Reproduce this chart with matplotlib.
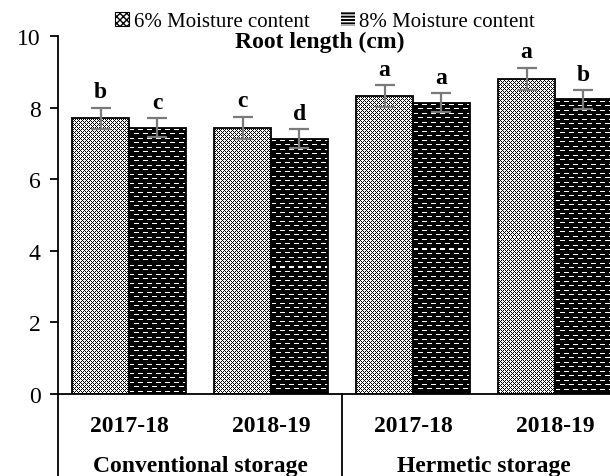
import numpy as np
import matplotlib
matplotlib.use("Agg")
import matplotlib.pyplot as plt
from matplotlib.patches import Patch

plt.rcParams['font.family'] = ['Liberation Serif', 'DejaVu Serif']

# Root length (cm) by storage type, season and seed moisture content
seasons = ["2017-18", "2018-19", "2017-18", "2018-19"]
storage_groups = ["Conventional storage", "Hermetic storage"]
series_names = ["6% Moisture content", "8% Moisture content"]
moist6 = [7.70, 7.43, 8.32, 8.80]
moist6_err = [0.30, 0.32, 0.31, 0.31]
moist6_letters = ["b", "c", "a", "a"]
moist8 = [7.44, 7.13, 8.14, 8.23]
moist8_err = [0.26, 0.27, 0.26, 0.26]
moist8_letters = ["c", "d", "a", "b"]

W, H = 610, 477
fig = plt.figure(figsize=(W / 100, H / 100), dpi=100)
ax = fig.add_axes([58 / W, 82 / H, 568 / W, 358 / H])

x = np.arange(len(seasons))
bw = 0.40
ax.set_xlim(-0.5, len(seasons) - 0.5)
ax.set_ylim(0, 10)

bars6 = ax.bar(x - bw / 2, moist6, bw, facecolor="white", edgecolor="none", zorder=2)
bars8 = ax.bar(x + bw / 2, moist8, bw, facecolor="black", edgecolor="none", zorder=2)


def tile_checker(h, w):
    i, j = np.mgrid[0:h, 0:w]
    black = ((i + j) % 4 == 0) | ((i - j) % 4 == 0)
    img = np.ones((h, w, 3))
    img[black] = 0.0
    return img


def tile_dashes(h, w):
    i, j = np.mgrid[0:h, 0:w]
    img = np.zeros((h, w, 3))
    row = i % 9
    white = ((row == 2) & ((j % 9) < 5)) | ((row == 6) & (((j + 4) % 9) < 5))
    img[white] = 1.0
    return img


def texture(bars, maker):
    fig.canvas.draw()
    for p in bars:
        x0, y0 = p.get_x(), p.get_y()
        x1, y1 = x0 + p.get_width(), y0 + p.get_height()
        (px0, py0), (px1, py1) = ax.transData.transform([(x0, y0), (x1, y1)])
        w = max(int(round(px1 - px0)), 1)
        h = max(int(round(py1 - py0)), 1)
        im = ax.imshow(maker(h, w), extent=(x0, x1, y0, y1), origin="upper",
                       interpolation="nearest", aspect="auto", zorder=2.5)
        im.set_clip_path(p)


texture(bars6, tile_checker)
texture(bars8, tile_dashes)
ax.set_xlim(-0.5, len(seasons) - 0.5)
ax.set_ylim(0, 10)

# outlines
ax.bar(x - bw / 2, moist6, bw, fill=False, edgecolor="black", linewidth=1.3, zorder=3)
ax.bar(x + bw / 2, moist8, bw, fill=False, edgecolor="black", linewidth=1.3, zorder=3)

err_kw = dict(fmt="none", ecolor="#7a7a7a", elinewidth=1.6, capsize=7, capthick=1.6, zorder=4)
ax.errorbar(x - bw / 2, moist6, yerr=moist6_err, **err_kw)
ax.errorbar(x + bw / 2, moist8, yerr=moist8_err, **err_kw)

for xi, v, e, t in zip(x - bw / 2, moist6, moist6_err, moist6_letters):
    ax.text(xi, v + e + 0.15, t, ha="center", va="bottom", fontsize=17, fontweight="bold")
for xi, v, e, t in zip(x + bw / 2, moist8, moist8_err, moist8_letters):
    ax.text(xi, v + e + 0.15, t, ha="center", va="bottom", fontsize=17, fontweight="bold")

# axes styling
for s in ["top", "right"]:
    ax.spines[s].set_visible(False)
ax.spines["left"].set_linewidth(1.3)
ax.spines["bottom"].set_linewidth(1.3)
ax.set_yticks(np.arange(0, 11, 2))
ax.tick_params(axis="y", direction="out", length=5.5, width=1.3, labelsize=17, pad=7)
ax.set_xticks(x)
ax.set_xticklabels(seasons, fontsize=17, fontweight="bold")
ax.tick_params(axis="x", length=0, pad=15)

# category separators below the axis
ybot = -82 / 358
for xf in [0.0, 0.5]:
    ax.plot([xf, xf], [0, ybot], transform=ax.transAxes, color="black",
            linewidth=1.3, clip_on=False)
for k, name in enumerate(storage_groups):
    ax.text(0.25 + 0.5 * k, -0.2, name, transform=ax.transAxes, ha="center",
            va="center", fontsize=17, fontweight="bold")

fig.text(320 / W, 1 - 42 / H, "Root length (cm)", ha="center", va="center",
         fontsize=17, fontweight="bold")

handles = [Patch(facecolor="white", edgecolor="black", hatch="xxxxx", linewidth=0.8),
           Patch(facecolor="black", edgecolor="white", hatch="-----", linewidth=0.0)]
fig.legend(handles, series_names, loc="upper center", bbox_to_anchor=(325 / W, 1.0),
           ncol=2, frameon=False, fontsize=15, handlelength=0.7, handleheight=0.7,
           handletextpad=0.2, columnspacing=1.5, borderaxespad=0.2)

fig.savefig("out.png", dpi=100)
